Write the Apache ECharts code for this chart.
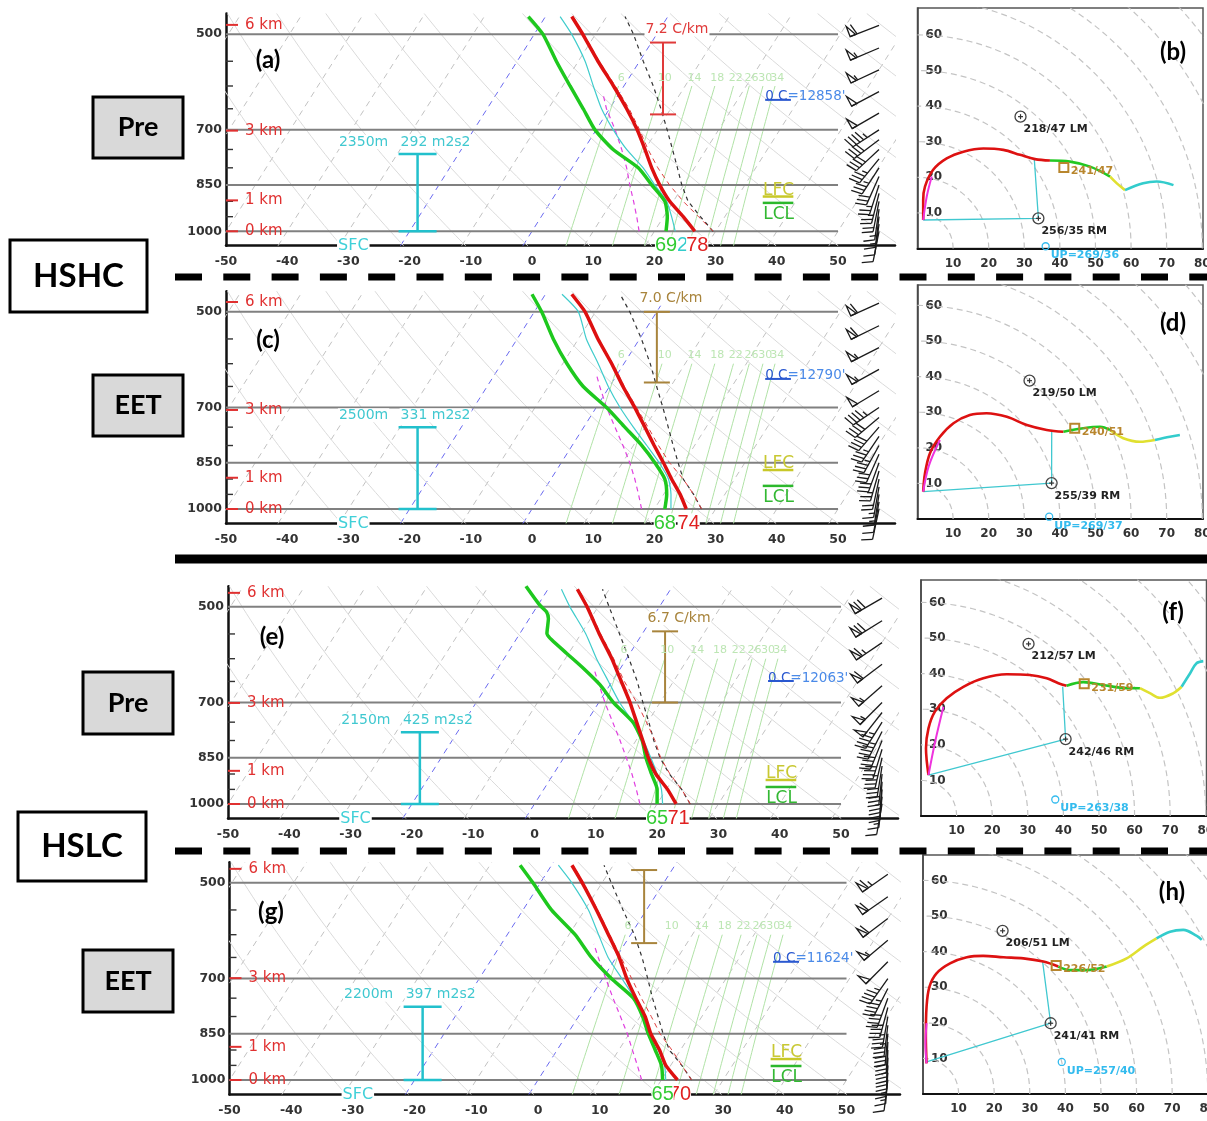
<!DOCTYPE html>
<html>
<head>
<meta charset="utf-8">
<title>Skew-T soundings and hodographs</title>
<script src="https://cdn.jsdelivr.net/npm/echarts/dist/echarts.min.js"></script>
<style>
html,body{margin:0;padding:0;background:#fff;}
#chart{width:1207px;height:1121px;}
</style>
</head>
<body>
<div id="chart"></div>
<script>
// ---------------- sounding profiles (pressure hPa, temperature degC) ----------------
const levels = [1000, 950, 900, 850, 800, 750, 700, 650, 600, 550, 500, 470];
const ddLevels = [1000, 950, 900, 850, 800, 750, 700, 650, 620];

// (a) HSHC pre-event
const tempA   = [26.6, 23.2, 19.4, 16.1, 13.0, 10.0, 6.7, 2.8, -1.7, -6.8, -12.1, -15.7];
const dewA    = [21.9, 20.6, 18.6, 14.8, 10.8, 4.8, -0.2, -4.3, -8.8, -13.6, -18.6, -22.8];
const wetA    = [23.4, 21.3, 18.9, 15.3, 11.6, 7.0, 2.8, -1.3, -5.0, -8.9, -13.9, -17.6];
const virtA   = [29.6, 25.7, 21.6, 17.7, 14.0, 10.5, 7.1, 3.2, -1.4, -6.6, -11.9, -15.5];
const parcelA = [29.6, 26.0, 22.4, 19.7, 17.2, 14.5, 11.6, 8.4, 4.8, 0.6, -3.8, -7.0];
const downA   = [17.5, 15.6, 13.5, 11.2, 8.9, 6.2, 3.1, -0.5, -2.4];

// (c) HSHC EET
const tempC   = [25.2, 22.7, 19.7, 16.7, 13.4, 10.0, 6.3, 2.2, -2.0, -6.8, -11.7, -15.7];
const dewC    = [21.7, 20.5, 18.6, 15.3, 11.4, 6.7, 1.7, -4.3, -9.3, -14.1, -18.8, -22.2];
const wetC    = [22.7, 21.2, 19.2, 16.0, 12.2, 8.1, 3.9, -0.2, -4.2, -8.7, -12.8, -17.3];
const virtC   = [27.7, 24.9, 21.6, 17.7, 14.1, 10.5, 6.6, 2.4, -1.8, -6.7, -11.6, -15.6];
const parcelC = [27.7, 24.9, 21.6, 19.1, 16.5, 13.8, 10.9, 7.7, 4.3, 0.3, -4.4, -7.8];
const downC   = [17.9, 15.9, 13.7, 11.2, 8.3, 5.1, 1.7, -1.6, -3.6];

// (e) HSLC pre-event
const tempE   = [23.1, 20.2, 16.7, 13.8, 11.1, 8.2, 5.1, 1.5, -2.4, -7.0, -11.8, -15.2];
const dewLevelsE = [1000, 950, 900, 850, 800, 750, 700, 658, 621, 589, 562, 549, 521, 509, 497, 465];
const dewE    = [20.0, 18.5, 16.0, 13.4, 11.0, 7.6, 2.4, -1.6, -6.0, -10.3, -14.1, -15.6, -16.9, -17.9, -19.7, -23.9];
const wetE    = [20.9, 19.2, 16.9, 14.2, 11.2, 7.6, 3.4, -0.6, -4.9, -9.2, -14.6, -17.8];
const virtE   = [25.4, 22.5, 19.0, 15.8, 13.1, 9.8, 6.2, 2.0, -2.1, -6.8, -11.6, -15.0];
const parcelE = [25.4, 22.5, 18.9, 15.7, 12.9, 10.2, 7.2, 4.1, 0.4, -3.7, -8.2, -11.1];
const downE   = [17.2, 15.1, 12.8, 10.2, 7.4, 4.3, 1.0, -2.3, -4.4];

// (g) HSLC EET
const tempG   = [22.6, 19.2, 16.6, 13.5, 10.8, 7.4, 3.9, 0.5, -3.6, -8.1, -13.2, -16.7];
const dewG    = [20.2, 18.5, 15.9, 13.1, 10.4, 7.0, 1.4, -4.0, -9.0, -15.4, -21.2, -25.1];
const wetG    = [20.7, 19.0, 16.4, 13.4, 10.6, 7.2, 3.1, -1.3, -5.2, -9.4, -14.9, -18.9];
const virtG   = [24.9, 21.8, 18.6, 15.0, 11.8, 8.3, 4.7, 0.8, -3.4, -7.9, -13.0, -16.5];
const parcelG = [24.9, 21.8, 18.2, 15.5, 12.9, 10.1, 7.3, 4.2, 0.6, -3.8, -8.5, -11.5];
const downG   = [16.8, 14.6, 12.2, 9.7, 6.8, 3.7, 0.5, -2.9, -5.0];

// ---------------- wind barbs (direction deg, speed kt) ----------------
const barbLevels = [485, 525, 567, 612, 660, 700, 725, 750, 775, 800, 825, 850, 875, 900, 925, 950, 975, 1000];
const barbDirA = [249, 247, 245, 242, 240, 237, 233, 227, 219, 213, 204, 198, 194, 191, 188, 187, 188, 191];
const barbSpdA = [58, 56, 54, 51, 49, 45, 41, 39, 36, 33, 30, 27, 24, 20, 17, 14, 11, 8];
const barbDirC = [246, 244, 243, 241, 239, 236, 230, 221, 214, 209, 204, 200, 196, 192, 190, 189, 190, 192];
const barbSpdC = [60, 59, 56, 53, 49, 45, 41, 38, 36, 33, 31, 28, 24, 21, 17, 13, 11, 8];
const barbDirE = [240, 238, 236, 233, 229, 225, 218, 212, 207, 202, 197, 193, 189, 186, 184, 184, 186, 190];
const barbSpdE = [71, 68, 65, 61, 57, 53, 50, 47, 44, 41, 38, 34, 31, 28, 23, 19, 15, 12];
const barbDirG = [235, 235, 233, 230, 225, 215, 207, 200, 195, 190, 187, 185, 183, 182, 182, 183, 184, 187];
const barbSpdG = [63, 61, 58, 55, 51, 47, 43, 41, 39, 37, 34, 32, 28, 25, 21, 17, 13, 9];

// ---------------- annotations ----------------
const pressureLabels = [500, 700, 850, 1000];
const minorTicks = [550, 600, 650, 750, 800, 900, 950];
const kmLabels = ['0 km', '1 km', '3 km', '6 km'];
const kmPressure = [[1000, 897, 702, 484], [1000, 896, 706, 483], [1000, 890, 701, 476], [1000, 890, 699, 476]];
const mixingRatios = [6, 10, 14, 18, 22, 26, 30, 34];
const effInflowTop = [762, 750, 777, 773];
const effInflowDepth = ['2350m', '2500m', '2150m', '2200m'];
const effInflowSrh = ['292 m2s2', '331 m2s2', '425 m2s2', '397 m2s2'];
const lapseTop = [515, 500, 545, 478];
const lapseBottom = [663, 641, 700, 618];
const lapseText = ['7.2 C/km', '7.0 C/km', '6.7 C/km', ''];
const freezeP = [630, 633, 649, 660];
const freezeHeight = ["12858'", "12790'", "12063'", "11624'"];
const lfcP = [885, 872, 919, 929];
const lclP = [905, 922, 942, 952];
const sfcTempF = [78, 74, 71, 70];
const sfcDewF = [69, 68, 65, 65];
const sfcWetF = [72, null, null, null];

// ---------------- hodographs (u, v in kt) ----------------
const hodoMagentaB = [[1.6, 8.0], [2.6, 14.6], [4.0, 20.2]];
const hodoRedB = [[1.6, 8.0], [1.6, 13.6], [2.1, 17.4], [4.4, 22.1], [8.2, 25.3], [12.9, 27.2], [18.5, 28.1], [24.1, 27.7], [28.8, 26.3], [33.0, 25.1], [37.2, 24.7]];
const hodoGreenB = [[37.2, 24.7], [42.8, 24.4], [48.5, 23.0], [54.1, 20.2]];
const hodoYellowB = [[54.1, 20.2], [56.0, 18.3], [58.3, 16.4]];
const hodoCyanB = [[58.3, 16.4], [63.4, 18.3], [67.2, 18.8], [71.9, 17.8]];
const inflowB = [[1.6, 8.0], [32.8, 25.2]];

const hodoMagentaD = [[1.6, 7.7], [3.2, 15.0], [6.3, 22.2]];
const hodoRedD = [[1.6, 7.7], [2.1, 12.8], [3.5, 18.5], [6.3, 23.1], [10.1, 26.9], [14.7, 29.2], [19.4, 29.7], [25.1, 28.7], [30.7, 26.4], [36.3, 25.0], [41.0, 24.5]];
const hodoGreenD = [[41.0, 24.5], [46.6, 25.5], [51.3, 25.9], [54.1, 25.0]];
const hodoYellowD = [[54.1, 25.0], [57.8, 22.7], [62.5, 21.7], [66.7, 22.2]];
const hodoCyanD = [[66.7, 22.2], [70.9, 23.1], [73.7, 23.6]];
const inflowD = [[1.6, 7.7], [37.7, 25.0]];

const hodoMagentaF = [[2.1, 11.5], [4.0, 21.0], [6.3, 30.7]];
const hodoRedF = [[2.1, 11.5], [1.4, 19.0], [2.1, 24.6], [3.9, 29.3], [7.2, 33.1], [11.9, 36.3], [17.5, 38.7], [24.1, 39.8], [30.6, 39.6], [35.3, 38.7], [38.6, 37.3], [40.9, 36.6]];
const hodoGreenF = [[40.9, 36.6], [45.6, 37.6], [51.2, 36.8], [56.8, 36.0], [61.5, 35.9]];
const hodoYellowF = [[61.5, 35.9], [64.3, 34.5], [67.1, 33.2], [70.9, 34.5], [73.2, 36.3]];
const hodoCyanF = [[73.2, 36.3], [75.6, 40.1], [77.4, 42.9], [79.3, 43.5]];
const inflowF = [[2.1, 11.5], [39.8, 36.3]];

const hodoMagentaH = [[1.0, 8.6], [0.7, 14.0], [1.0, 19.9]];
const hodoRedH = [[1.0, 8.6], [0.8, 16.1], [1.0, 24.5], [1.8, 30.1], [3.8, 33.9], [7.6, 36.7], [12.3, 38.4], [16.9, 38.8], [22.6, 38.4], [28.2, 38.1], [33.8, 37.2], [38.0, 35.8]];
const hodoGreenH = [[38.0, 35.8], [41.3, 34.8], [46.0, 34.8], [51.6, 35.8]];
const hodoYellowH = [[51.6, 35.8], [57.2, 38.1], [61.9, 41.4], [65.6, 43.7]];
const hodoCyanH = [[65.6, 43.7], [69.4, 45.6], [73.1, 46.1], [76.9, 44.4], [78.3, 43.3]];
const inflowH = [[1.0, 9.0], [33.6, 37.2]];

// storm motions as direction/speed
const leftMover = [[218, 47], [219, 50], [212, 57], [206, 51]];
const rightMover = [[256, 35], [255, 39], [242, 46], [241, 41]];
const meanWind = [[241, 47], [240, 51], [231, 59], [226, 52]];
const upshear = [[269, 36], [269, 37], [263, 38], [257, 40]];

// ---------------- helpers ----------------
const SKEW = 29.4;               // degC of horizontal shift per ln(1000/p)
const P_TOP = 465, P_BOT = 1052;
const skewX = (t, p) => t + SKEW * Math.log(1000 / p);
const dewFromMix = (w, p) => { const e = w * p / (622 + w); const l = Math.log(e / 6.112); return 243.5 * l / (17.67 - l); };
const toUV = ([d, s]) => [-s * Math.sin(d * Math.PI / 180), -s * Math.cos(d * Math.PI / 180)];
const FONT = '"DejaVu Sans"';

const skewLayout = [
  { left: 226, top: 13.5, width: 669, xmax: 59.31 },
  { left: 226, top: 291.2, width: 669, xmax: 59.31 },
  { left: 228, top: 586.2, width: 670, xmax: 59.30 },
  { left: 229.5, top: 862.2, width: 670.5, xmax: 58.67 }
];
const SKEW_H = 232.2;
const annot = { lapseX: [21.4, 20.4, 21.3, 17.2], lapseColor: ['#e03a3a', '#a8843c', '#a8843c', '#a8843c'],
  inflowX: -18.7, sfcX: -29.2, markX0: 38.1, markX1: 42.7, markMid: 40.3, barbX: 56.7 };
const hodoLayout = [
  { left: 917.5, top: 8, height: 240.5 },
  { left: 917.5, top: 285, height: 234 },
  { left: 921, top: 580, height: 236 },
  { left: 923, top: 855, height: 239 }
];
const HODO_SCALE = 3.56, HODO_W = 285.5;

const profiles = [
  { T: tempA, Td: dewA, TdP: levels, Tw: wetA, Tv: virtA, Tpcl: parcelA, dd: downA, barbDir: barbDirA, barbSpd: barbSpdA },
  { T: tempC, Td: dewC, TdP: levels, Tw: wetC, Tv: virtC, Tpcl: parcelC, dd: downC, barbDir: barbDirC, barbSpd: barbSpdC },
  { T: tempE, Td: dewE, TdP: dewLevelsE, Tw: wetE, Tv: virtE, Tpcl: parcelE, dd: downE, barbDir: barbDirE, barbSpd: barbSpdE },
  { T: tempG, Td: dewG, TdP: levels, Tw: wetG, Tv: virtG, Tpcl: parcelG, dd: downG, barbDir: barbDirG, barbSpd: barbSpdG }
];
const hodos = [
  { seg: [hodoMagentaB, hodoRedB, hodoGreenB, hodoYellowB, hodoCyanB], inflow: inflowB },
  { seg: [hodoMagentaD, hodoRedD, hodoGreenD, hodoYellowD, hodoCyanD], inflow: inflowD },
  { seg: [hodoMagentaF, hodoRedF, hodoGreenF, hodoYellowF, hodoCyanF], inflow: inflowF },
  { seg: [hodoMagentaH, hodoRedH, hodoGreenH, hodoYellowH, hodoCyanH], inflow: inflowH }
];
const hodoColors = ['#ee33dd', '#dd1111', '#22c822', '#e0e030', '#33cccc'];

const grids = [], xAxes = [], yAxes = [], series = [];

function lineSeries(gi, data, style, extra) {
  series.push(Object.assign({ type: 'line', xAxisIndex: gi, yAxisIndex: gi, data: data, showSymbol: false, symbol: 'none',
    silent: true, animation: false, lineStyle: style, z: 2 }, extra || {}));
}
function textSeries(gi, items, z) {
  series.push({ type: 'custom', xAxisIndex: gi, yAxisIndex: gi, silent: true, animation: false, z: z || 20, clip: false,
    data: items.map(it => [it.x, it.y]),
    renderItem: (params, api) => {
      const it = items[params.dataIndex];
      const pt = api.coord([api.value(0), api.value(1)]);
      const style = { text: it.text, fill: it.color, font: it.font, align: it.align || 'center', verticalAlign: 'middle' };
      if (it.bg) { style.backgroundColor = it.bg; style.padding = it.pad || [0, 1]; }
      if (it.rich) style.rich = it.rich;
      return { type: 'text', x: pt[0] + (it.dx || 0), y: pt[1] + (it.dy || 0), z2: params.dataIndex, style: style };
    } });
}
// short horizontal marks: data [x, p], length in px
function tickSeries(gi, items) {
  series.push({ type: 'custom', xAxisIndex: gi, yAxisIndex: gi, silent: true, animation: false, z: 15, clip: false,
    data: items.map(it => [it.x, it.y]),
    renderItem: (params, api) => {
      const it = items[params.dataIndex];
      const pt = api.coord([api.value(0), api.value(1)]);
      return { type: 'line', shape: { x1: pt[0], y1: pt[1], x2: pt[0] + it.len, y2: pt[1] }, style: { stroke: it.color, lineWidth: it.width } };
    } });
}
// vertical bracket with caps: data [x, p1, p2]
function bracketSeries(gi, items) {
  series.push({ type: 'custom', xAxisIndex: gi, yAxisIndex: gi, silent: true, animation: false, z: 12, clip: false,
    data: items.map(it => [it.x, it.p1, it.p2]),
    renderItem: (params, api) => {
      const it = items[params.dataIndex];
      const a = api.coord([api.value(0), api.value(1)]);
      const b = api.coord([api.value(0), api.value(2)]);
      const st = { stroke: it.color, lineWidth: it.width };
      return { type: 'group', children: [
        { type: 'line', shape: { x1: a[0], y1: a[1], x2: b[0], y2: b[1] }, style: st },
        { type: 'line', shape: { x1: a[0] - it.cap, y1: a[1], x2: a[0] + it.cap, y2: a[1] }, style: st },
        { type: 'line', shape: { x1: b[0] - it.cap, y1: b[1], x2: b[0] + it.cap, y2: b[1] }, style: st }
      ] };
    } });
}
// horizontal level marker: data [x1, p, x2]
function levelSeries(gi, items) {
  series.push({ type: 'custom', xAxisIndex: gi, yAxisIndex: gi, silent: true, animation: false, z: 12, clip: false,
    data: items.map(it => [it.x1, it.p, it.x2]),
    renderItem: (params, api) => {
      const it = items[params.dataIndex];
      const a = api.coord([api.value(0), api.value(1)]);
      const b = api.coord([api.value(2), api.value(1)]);
      return { type: 'line', shape: { x1: a[0], y1: a[1], x2: b[0], y2: b[1] }, style: { stroke: it.color, lineWidth: it.width } };
    } });
}
// wind barb glyph, station point at (cx, cy)
function barbChildren(cx, cy, dir, spd) {
  const L = 31, F = 11, gap = 4.2;
  const r = dir * Math.PI / 180;
  const dx = Math.sin(r), dy = -Math.cos(r);
  const nx = -dy, ny = dx;
  const tx = cx + dx * L, ty = cy + dy * L;
  const st = { stroke: '#1a1a1a', lineWidth: 1.3, fill: null };
  const out = [{ type: 'line', shape: { x1: cx, y1: cy, x2: tx, y2: ty }, style: st }];
  let s = Math.round(spd / 5) * 5, pos = 0;
  while (s >= 50) {
    const ax = tx - dx * pos, ay = ty - dy * pos;
    const bx = tx - dx * (pos + 6), by = ty - dy * (pos + 6);
    out.push({ type: 'polygon', shape: { points: [[ax, ay], [ax + nx * F, ay + ny * F], [bx, by]] }, style: { fill: 'transparent', stroke: '#1a1a1a', lineWidth: 1.3 } });
    pos += 7.5; s -= 50;
  }
  while (s >= 10) {
    const ax = tx - dx * pos, ay = ty - dy * pos;
    out.push({ type: 'line', shape: { x1: ax, y1: ay, x2: ax + nx * F + dx * 3, y2: ay + ny * F + dy * 3 }, style: st });
    pos += gap; s -= 10;
  }
  if (s >= 5) {
    if (pos === 0) pos = gap;
    const ax = tx - dx * pos, ay = ty - dy * pos;
    out.push({ type: 'line', shape: { x1: ax, y1: ay, x2: ax + nx * F * 0.5 + dx * 1.5, y2: ay + ny * F * 0.5 + dy * 1.5 }, style: st });
  }
  return out;
}

// ---------------- Skew-T panels ----------------
skewLayout.forEach((g, k) => {
  const gi = k;
  grids.push({ left: g.left, top: g.top, width: g.width, height: SKEW_H, containLabel: false, outerBoundsMode: 'none' });
  xAxes.push({ type: 'value', gridIndex: gi, min: -50, max: g.xmax, interval: 10,
    axisLine: { show: true, onZero: false, lineStyle: { color: '#111', width: 2.5 } },
    axisTick: { show: false }, splitLine: { show: false },
    axisLabel: { margin: 10, color: '#333', fontFamily: 'DejaVu Sans', fontWeight: 'bold', fontSize: 12.5,
      formatter: v => (Math.abs(v % 10) < 1e-6 && v <= 50) ? String(v) : '' } });
  yAxes.push({ type: 'log', gridIndex: gi, logBase: 10, min: P_TOP, max: P_BOT, inverse: true,
    axisLine: { show: true, onZero: false, lineStyle: { color: '#111', width: 2.5 } },
    axisTick: { show: false }, axisLabel: { show: false }, splitLine: { show: false } });

  const samp = [];
  for (let p = P_BOT; p >= P_TOP - 1; p -= 12) samp.push(Math.max(p, P_TOP));

  // isotherms
  for (let t = -130; t <= 50; t += 10) {
    const hl = (t === -20 || t === 0);
    lineSeries(gi, [[skewX(t, P_BOT), P_BOT], [skewX(t, P_TOP), P_TOP]],
      { color: hl ? '#6a6af0' : '#c2c2c2', width: 1, type: [6, 5] }, { z: 1 });
  }
  // dry adiabats
  for (let th = 240; th <= 460; th += 10) {
    lineSeries(gi, samp.map(p => [skewX(th * Math.pow(p / 1000, 0.2857) - 273.15, p), p]),
      { color: '#dadada', width: 1 }, { z: 1 });
  }
  // mixing ratio lines
  mixingRatios.forEach(w => {
    lineSeries(gi, samp.filter(p => p >= 600).concat([600]).map(p => [skewX(dewFromMix(w, p), p), p]),
      { color: '#b0e2a6', width: 1 }, { z: 1 });
  });
  // pressure lines
  pressureLabels.forEach(p => lineSeries(gi, [[-50, p], [50, p]], { color: '#808080', width: 2 }, { z: 3 }));

  const pr = profiles[k];
  const prof = (vals, lev) => vals.map((t, i) => [skewX(t, lev[i]), lev[i]]);
  lineSeries(gi, prof(pr.dd, ddLevels), { color: '#e040e0', width: 1.2, type: [5, 4] }, { z: 5 });
  lineSeries(gi, prof(pr.Tpcl, levels), { color: '#333', width: 1.2, type: [4, 4] }, { z: 5 });
  lineSeries(gi, prof(pr.Tv, levels), { color: '#e04040', width: 1, type: [5, 4] }, { z: 5 });
  lineSeries(gi, prof(pr.Tw, levels), { color: '#40cccc', width: 1.2 }, { z: 6, smooth: 0.2 });
  lineSeries(gi, prof(pr.Td, pr.TdP), { color: '#1ec81e', width: 3.5 }, { z: 7, smooth: 0.2 });
  lineSeries(gi, prof(pr.T, levels), { color: '#dd1010', width: 3.5 }, { z: 8, smooth: 0.15 });

  // wind barbs
  series.push({ type: 'custom', xAxisIndex: gi, yAxisIndex: gi, silent: true, animation: false, z: 9, clip: false,
    data: barbLevels.map((p, i) => [annot.barbX, p, pr.barbDir[i], pr.barbSpd[i]]),
    renderItem: (params, api) => {
      const pt = api.coord([api.value(0), api.value(1)]);
      return { type: 'group', children: barbChildren(pt[0], pt[1], api.value(2), api.value(3)) };
    } });

  // axis ticks and height markers
  tickSeries(gi, minorTicks.map(p => ({ x: -50, y: p, len: 7, color: '#333', width: 1.4 }))
    .concat(kmPressure[k].map(p => ({ x: -50, y: p, len: 12, color: '#e03030', width: 2 }))));

  // effective inflow layer and lapse-rate brackets
  bracketSeries(gi, [
    { x: annot.inflowX, p1: effInflowTop[k], p2: 1000, cap: 19, color: '#22c0cc', width: 2.5 },
    { x: annot.lapseX[k], p1: lapseTop[k], p2: lapseBottom[k], cap: 13, color: annot.lapseColor[k], width: 2 }
  ]);
  // freezing level, LFC, LCL marks
  levelSeries(gi, [
    { x1: annot.markX0, x2: annot.markX1 - 0.4, p: freezeP[k], color: '#2a58d0', width: 2 },
    { x1: annot.markX0 - 0.4, x2: annot.markX1, p: lfcP[k], color: '#c8c828', width: 2.5 },
    { x1: annot.markX0 - 0.4, x2: annot.markX1, p: lclP[k], color: '#2cb82c', width: 2.5 }
  ]);

  const items = [];
  pressureLabels.forEach(p => items.push({ x: -50, y: p, text: String(p), color: '#333', font: 'bold 12.5px ' + FONT, align: 'right', dx: -4 }));
  kmLabels.forEach((t, j) => items.push({ x: -50, y: kmPressure[k][j], text: t, color: '#e03030', font: '15px ' + FONT, align: 'left', dx: 19 }));
  mixingRatios.forEach(w => items.push({ x: skewX(dewFromMix(w, 583), 583), y: 583, text: String(w), color: '#bde6b4', font: '11px ' + FONT }));
  items.push({ x: annot.inflowX, y: effInflowTop[k], text: effInflowDepth[k], color: '#40c8d0', font: '14px ' + FONT, dx: -54, dy: -12, bg: '#fff' });
  items.push({ x: annot.inflowX, y: effInflowTop[k], text: effInflowSrh[k], color: '#40c8d0', font: '14px ' + FONT, dx: 18, dy: -12, bg: '#fff' });
  items.push({ x: annot.sfcX, y: P_BOT, text: 'SFC', color: '#40d0d8', font: '16px ' + FONT, bg: '#fff' });
  if (lapseText[k]) items.push({ x: annot.lapseX[k], y: lapseTop[k], text: lapseText[k], color: annot.lapseColor[k], font: '14px ' + FONT, dx: 14, dy: -13, bg: '#fff' });
  items.push({ x: annot.markX0, y: freezeP[k], text: '{a|0 C}{b|=' + freezeHeight[k] + '}', color: '#4a86e8', font: '13.5px ' + FONT, align: 'left', dy: -3,
    rich: { a: { fill: '#2a58d0', font: '13.5px ' + FONT }, b: { fill: '#4a8ae8', font: '13.5px ' + FONT } } });
  items.push({ x: annot.markMid, y: lfcP[k], text: 'LFC', color: '#c8c832', font: '17px ' + FONT, dy: -6 });
  items.push({ x: annot.markMid, y: lclP[k], text: 'LCL', color: '#33b833', font: '17px ' + FONT, dy: 12 });
  textSeries(gi, items, 20);

  // surface values (degF) at the bottom of each trace
  const sfc = [];
  if (sfcWetF[k] != null) sfc.push({ x: skewX(pr.Tw[0], 1000) + 0.3, y: P_BOT, text: String(sfcWetF[k]), color: '#33cccc', font: '20px "Liberation Sans"', bg: '#fff', pad: [0, 0] });
  sfc.push({ x: skewX(pr.T[0], 1000) + 0.4, y: P_BOT, text: String(sfcTempF[k]), color: '#e02020', font: '20px "Liberation Sans"', bg: '#fff', pad: [0, 0] });
  sfc.push({ x: skewX(pr.Td[0], 1000), y: P_BOT, text: String(sfcDewF[k]), color: '#33cc33', font: '20px "Liberation Sans"', bg: '#fff', pad: [0, 0] });
  textSeries(gi, sfc, 22);
});

// ---------------- hodograph panels ----------------
hodoLayout.forEach((g, k) => {
  const gi = 4 + k;
  const ymax = g.height / HODO_SCALE, xmax = HODO_W / HODO_SCALE;
  grids.push({ left: g.left, top: g.top, width: HODO_W, height: g.height, containLabel: false, outerBoundsMode: 'none',
    show: true, borderColor: '#555', borderWidth: 1.5, backgroundColor: 'transparent' });
  xAxes.push({ type: 'value', gridIndex: gi, min: 0, max: xmax, interval: 10,
    axisLine: { show: true, onZero: false, lineStyle: { color: '#111', width: 2 } },
    axisTick: { show: false }, splitLine: { show: false },
    axisLabel: { margin: 9, color: '#333', fontFamily: 'DejaVu Sans', fontWeight: 'bold', fontSize: 12,
      formatter: v => (v > 0 && Math.abs(v % 10) < 1e-6) ? String(v) : '' } });
  yAxes.push({ type: 'value', gridIndex: gi, min: 0, max: ymax, interval: 10,
    axisLine: { show: true, onZero: false, lineStyle: { color: '#444', width: 1.5 } },
    axisTick: { show: false }, splitLine: { show: false },
    axisLabel: { inside: true, margin: 8, color: '#333', fontFamily: 'DejaVu Sans', fontWeight: 'bold', fontSize: 12,
      formatter: v => (v > 0 && Math.abs(v % 10) < 1e-6) ? String(v) : '' } });

  // speed rings
  for (let r = 10; r <= 110; r += 10) {
    const ring = [];
    for (let a = 0; a <= 90; a += 2) ring.push([r * Math.cos(a * Math.PI / 180), r * Math.sin(a * Math.PI / 180)]);
    lineSeries(gi, ring, { color: '#c4c4c4', width: 1.2, type: [6, 4] }, { z: 1 });
  }
  const h = hodos[k];
  const rm = toUV(rightMover[k]), lm = toUV(leftMover[k]), mw = toUV(meanWind[k]), up = toUV(upshear[k]);
  lineSeries(gi, [h.inflow[0], rm, h.inflow[1]], { color: '#40c8d0', width: 1.3 }, { z: 4 });
  h.seg.forEach((s, j) => lineSeries(gi, s, { color: hodoColors[j], width: j === 0 ? 2 : 2.6 }, { z: j === 0 ? 6 : 5, smooth: 0.35 }));

  const marks = [{ uv: lm, kind: 'storm' }, { uv: rm, kind: 'storm' }, { uv: mw, kind: 'mean' }, { uv: up, kind: 'up' }];
  series.push({ type: 'custom', xAxisIndex: gi, yAxisIndex: gi, silent: true, animation: false, z: 10, clip: false,
    data: marks.map(m => m.uv),
    renderItem: (params, api) => {
      const pt = api.coord([api.value(0), api.value(1)]);
      const kind = marks[params.dataIndex].kind;
      if (kind === 'storm') return { type: 'group', children: [
        { type: 'circle', shape: { cx: pt[0], cy: pt[1], r: 5.5 }, style: { fill: 'transparent', stroke: '#444', lineWidth: 1.3 } },
        { type: 'line', shape: { x1: pt[0] - 2.5, y1: pt[1], x2: pt[0] + 2.5, y2: pt[1] }, style: { stroke: '#333', lineWidth: 1.2 } },
        { type: 'line', shape: { x1: pt[0], y1: pt[1] - 2.5, x2: pt[0], y2: pt[1] + 2.5 }, style: { stroke: '#333', lineWidth: 1.2 } }] };
      if (kind === 'mean') return { type: 'rect', shape: { x: pt[0] - 4.5, y: pt[1] - 4.5, width: 9, height: 9 }, style: { fill: 'transparent', stroke: '#b8862e', lineWidth: 2 } };
      return { type: 'circle', shape: { cx: pt[0], cy: pt[1], r: 3.5 }, style: { fill: 'transparent', stroke: '#33bbee', lineWidth: 1.3 } };
    } });
  const fmt = m => m[0] + '/' + m[1];
  textSeries(gi, [
    { x: lm[0], y: lm[1], text: fmt(leftMover[k]) + ' LM', color: '#222', font: 'bold 11px ' + FONT, align: 'left', dx: 3, dy: 12 },
    { x: rm[0], y: rm[1], text: fmt(rightMover[k]) + ' RM', color: '#222', font: 'bold 11px ' + FONT, align: 'left', dx: 3, dy: 13 },
    { x: mw[0], y: mw[1], text: fmt(meanWind[k]), color: '#b8862e', font: 'bold 11px ' + FONT, align: 'left', dx: 7, dy: 4 },
    { x: up[0], y: up[1], text: 'UP=' + fmt(upshear[k]), color: '#33bbee', font: 'bold 11px ' + FONT, align: 'left', dx: 5, dy: 9 }
  ], 20);
});

// ---------------- page furniture: panel letters, group labels, separators ----------------
const letter = (t, x, y) => ({ type: 'text', x: x, y: y, z: 50, style: { text: t, font: 'bold 24px Lato', fill: '#000', align: 'center', verticalAlign: 'middle' } });
const tag = (t, x, y, w, h, fill, size) => ([
  { type: 'rect', z: 50, shape: { x: x, y: y, width: w, height: h }, style: { fill: fill, stroke: '#000', lineWidth: 3 } },
  { type: 'text', z: 51, x: x + w / 2, y: y + h / 2, style: { text: t, font: 'bold ' + size + 'px Lato', fill: '#000', align: 'center', verticalAlign: 'middle' } }
]);
const sep = (y, dashed, w) => ({ type: 'line', z: 50, shape: { x1: 175, y1: y, x2: 1207, y2: y },
  style: { stroke: '#000', lineWidth: w, lineDash: dashed ? [27, 21.3] : null } });

const graphic = [
  letter('(a)', 268, 60), letter('(c)', 268, 340), letter('(e)', 272, 637), letter('(g)', 271, 912),
  letter('(b)', 1173, 52), letter('(d)', 1173, 323), letter('(f)', 1173, 612), letter('(h)', 1172, 892),
  ...tag('Pre', 93, 97, 90, 61, '#d9d9d9', 27),
  ...tag('EET', 93, 375, 90, 61, '#d9d9d9', 27),
  ...tag('HSHC', 10, 240, 137, 72, '#fff', 33),
  ...tag('Pre', 83, 672, 90, 62, '#d9d9d9', 27),
  ...tag('HSLC', 18, 812, 128, 69, '#fff', 33),
  ...tag('EET', 83, 950, 90, 62, '#d9d9d9', 27),
  sep(277, true, 7), sep(559, false, 9), sep(851, true, 7)
];

const chart = echarts.init(document.getElementById('chart'), null, { renderer: 'canvas' });
chart.setOption({ animation: false, backgroundColor: '#fff', grid: grids, xAxis: xAxes, yAxis: yAxes, series: series, graphic: graphic });
</script>
</body>
</html>
